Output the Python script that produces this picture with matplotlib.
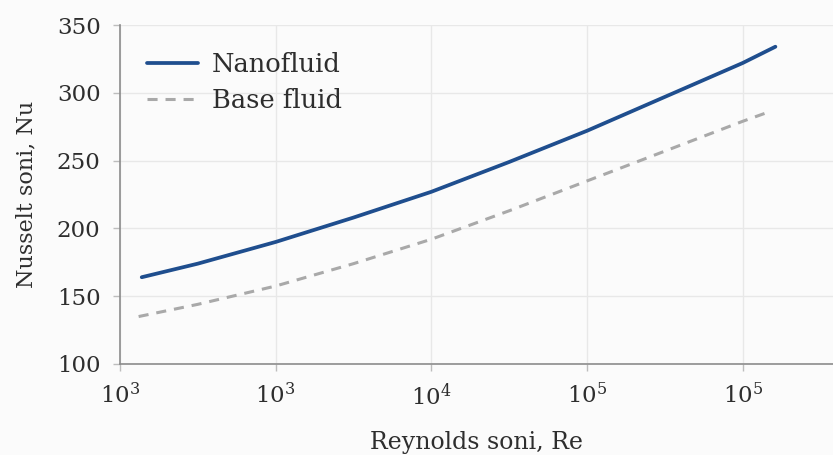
import matplotlib
matplotlib.use("Agg")
import matplotlib.pyplot as plt

# positions along the (evenly spaced) Re axis, in tick units
re_nano = [0.14, 0.5, 1.0, 1.5, 2.0, 2.5, 3.0, 3.5, 4.0, 4.21]
nu_nano = [164, 174, 190, 208, 227, 249, 272, 297, 322, 334]

re_base = [0.12, 0.5, 1.0, 1.5, 2.0, 2.5, 3.0, 3.5, 4.0, 4.17]
nu_base = [135, 144, 157.5, 174, 192, 213, 235, 257, 279, 286]

x_ticks = [0, 1, 2, 3, 4]
x_labels = ["$10^3$", "$10^3$", "$10^4$", "$10^5$", "$10^5$"]
y_ticks = [100, 150, 200, 250, 300, 350]

plt.rcParams['font.family'] = ['DejaVu Serif']
plt.rcParams['mathtext.fontset'] = 'dejavuserif'

fig = plt.figure(figsize=(8.33, 4.55), dpi=100)
fig.patch.set_facecolor('#fbfbfb')
ax = fig.add_axes([0.144, 0.2, 0.856, 0.745])
ax.set_facecolor('#fbfbfb')

ax.plot(re_nano, nu_nano, color='#1f4e8e', lw=2.7, solid_capstyle='round',
        label='Nanofluid', zorder=3)
ax.plot(re_base, nu_base, color='#a9a9a9', lw=2.2, dashes=(3.3, 2.6),
        label='Base fluid', zorder=3)

ax.set_xlim(0, 4.58)
ax.set_ylim(100, 350)
ax.set_xticks(x_ticks)
ax.set_xticklabels(x_labels)
ax.set_yticks(y_ticks)

ax.grid(True, color='#e8e8e8', lw=1.0)
ax.set_axisbelow(True)
for s in ['top', 'right']:
    ax.spines[s].set_visible(False)
for s in ['left', 'bottom']:
    ax.spines[s].set_color('#8c8c8c')
    ax.spines[s].set_linewidth(1.2)

ax.tick_params(axis='both', colors='#bdbdbd', length=5, width=1,
               labelsize=16.5, labelcolor='#2e2e2e')
ax.tick_params(axis='x', pad=9)
ax.tick_params(axis='y', pad=9)

ax.set_xlabel('Reynolds soni, Re', fontsize=17, color='#2e2e2e', labelpad=15)
ax.set_ylabel('Nusselt soni, Nu', fontsize=16, color='#2e2e2e', labelpad=14)

leg = ax.legend(loc='upper left', bbox_to_anchor=(0.005, 0.99), frameon=False,
                fontsize=18.5, handlelength=2.0, handletextpad=0.55,
                labelspacing=0.45, labelcolor='#2e2e2e')

fig.savefig('out.png', dpi=100, facecolor=fig.get_facecolor())
